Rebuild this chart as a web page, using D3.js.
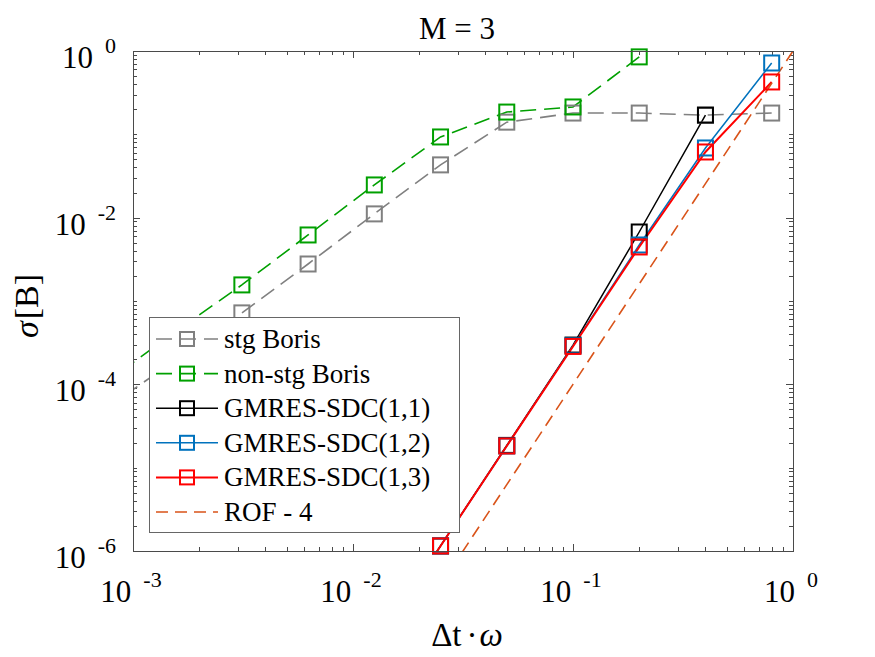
<!DOCTYPE html>
<html>
<head>
<meta charset="utf-8">
<title>M = 3</title>
<script src="https://d3js.org/d3.v7.min.js"></script>
<style>
  body { margin: 0; background: #fff; }
  text { font-family: "Liberation Serif", "Times New Roman", serif; fill: #000; }
</style>
</head>
<body>
<svg width="875" height="657"></svg>
<script>
// step sizes dt*omega, largest first
var dt = [0.8, 0.4, 0.2, 0.1, 0.05, 0.025, 0.0125, 0.00625, 0.003125, 0.0015625, 0.00078125];

var stgBoris    = [0.18, 0.17, 0.18, 0.18, 0.14, 0.043, 0.0111, 0.00278, 7.2e-4, 1.96e-4, 5.5e-5];
var nonStgDt    = [0.2, 0.1, 0.05, 0.025, 0.0125, 0.00625, 0.003125, 0.0015625, 0.00078125];
var nonStgBoris = [0.85, 0.213, 0.185, 0.093, 0.0247, 0.0062, 0.00156, 4.3e-4, 1.14e-4];
var sdc11Dt     = [0.4, 0.2, 0.1, 0.05, 0.025, 0.0125];
var sdc11       = [0.17, 0.00673, 2.96e-4, 1.85e-5, 1.15e-6, 7.2e-8];
var sdcDt       = [0.8, 0.4, 0.2, 0.1, 0.05, 0.025, 0.0125];
var sdc12       = [0.718, 0.0686, 0.0047, 2.9e-4, 1.82e-5, 1.15e-6, 7.2e-8];
var sdc13       = [0.425, 0.0614, 0.00445, 2.85e-4, 1.82e-5, 1.15e-6, 7.2e-8];
var rofDt       = [1, 0.8, 0.4, 0.2, 0.1, 0.05, 0.025];
var rof4        = [1, 0.4096, 0.0256, 0.0016, 1e-4, 6.25e-6, 3.9e-7];

var xTickExp = [-3, -2, -1, 0];
var yTickExp = [0, -2, -4, -6];

var series = [
  {name: "stg Boris",      x: dt,       y: stgBoris,    color: "#808080", dash: "16,8", marker: true, w: 1.6},
  {name: "non-stg Boris",  x: nonStgDt, y: nonStgBoris, color: "#00a000", dash: "16,8", marker: true, w: 1.6},
  {name: "GMRES-SDC(1,1)", x: sdc11Dt,  y: sdc11,       color: "#000000", dash: null,   marker: true, w: 1.5},
  {name: "GMRES-SDC(1,2)", x: sdcDt,    y: sdc12,       color: "#0072bd", dash: null,   marker: true, w: 1.5},
  {name: "GMRES-SDC(1,3)", x: sdcDt,    y: sdc13,       color: "#ff0000", dash: null,   marker: true, w: 2},
  {name: "ROF - 4",        x: rofDt,    y: rof4,        color: "#d95319", dash: "12,7", marker: false, w: 1.6}
];

var svg = d3.select("svg");
var pL = 133, pR = 793, pT = 51, pB = 551;

var x = d3.scaleLog().domain([1e-3, 1]).range([pL, pR]);
var y = d3.scaleLog().domain([1e-6, 1]).range([pB, pT]);

svg.append("defs").append("clipPath").attr("id", "clip")
  .append("rect").attr("x", pL).attr("y", pT)
  .attr("width", pR - pL).attr("height", pB - pT);

// ticks, MATLAB style: inside, on all four sides
var axisColor = "#4a4a4a";
var ticks = svg.append("g").attr("stroke", axisColor).attr("stroke-width", 1);
var majLen = 7, minLen = 4;

function logTicks(lo, hi) {
  var out = [];
  for (var e = lo; e < hi; e++) {
    for (var m = 1; m <= 9; m++) out.push({v: m * Math.pow(10, e), major: m === 1});
  }
  out.push({v: Math.pow(10, hi), major: true});
  return out;
}

logTicks(-3, 0).forEach(function(t) {
  var px = Math.round(x(t.v)) + 0.5, len = t.major ? majLen : minLen;
  ticks.append("line").attr("x1", px).attr("x2", px).attr("y1", pB).attr("y2", pB - len);
  ticks.append("line").attr("x1", px).attr("x2", px).attr("y1", pT).attr("y2", pT + len);
});
logTicks(-6, 0).forEach(function(t) {
  var e = Math.round(Math.log10(t.v));
  var major = t.major && yTickExp.indexOf(e) >= 0;
  var py = Math.round(y(t.v)) + 0.5, len = major ? majLen : minLen;
  ticks.append("line").attr("y1", py).attr("y2", py).attr("x1", pL).attr("x2", pL + len);
  ticks.append("line").attr("y1", py).attr("y2", py).attr("x1", pR).attr("x2", pR - len);
});

// series
var plot = svg.append("g").attr("clip-path", "url(#clip)");
var line = d3.line().x(function(d) { return x(d[0]); }).y(function(d) { return y(d[1]); });

series.forEach(function(s) {
  var pts = s.x.map(function(v, i) { return [v, s.y[i]]; });
  plot.append("path")
    .attr("d", line(pts))
    .attr("fill", "none")
    .attr("stroke", s.color)
    .attr("stroke-width", s.w)
    .attr("stroke-dasharray", s.dash);
  if (s.marker) {
    svg.append("g").selectAll("rect")
      .data(pts.filter(function(p) { return p[0] >= 1e-3 && p[1] >= 1e-6; }))
      .enter().append("rect")
        .attr("x", function(d) { return x(d[0]) - 7.5; })
        .attr("y", function(d) { return y(d[1]) - 7.5; })
        .attr("width", 15).attr("height", 15)
        .attr("fill", "none")
        .attr("stroke", s.color)
        .attr("stroke-width", 2);
  }
});

// box
svg.append("rect")
  .attr("x", pL + 0.5).attr("y", pT + 0.5)
  .attr("width", pR - pL).attr("height", pB - pT)
  .attr("fill", "none").attr("stroke", axisColor).attr("stroke-width", 1);

// tick labels
function powLabel(g, px, py, e, anchor) {
  var t = g.append("text").attr("x", px).attr("y", py).attr("text-anchor", anchor);
  t.append("tspan").attr("font-size", 31).text("10");
  t.append("tspan").attr("font-size", 22).attr("dx", 12).attr("dy", -15).text(e);
}
var labels = svg.append("g");
xTickExp.forEach(function(e) { powLabel(labels, x(Math.pow(10, e)) - 2, 602, e, "middle"); });
yTickExp.forEach(function(e) { powLabel(labels, 116, y(Math.pow(10, e)) + 17, e, "end"); });

// title and axis labels
svg.append("text").attr("x", (pL + pR) / 2 - 6).attr("y", 39)
  .attr("text-anchor", "middle").attr("font-size", 31).text("M = 3");
svg.append("text").attr("x", (pL + pR) / 2 + 4).attr("y", 646)
  .attr("text-anchor", "middle").attr("font-size", 33)
  .html('Δt<tspan dx="5">·</tspan><tspan dx="2" font-style="italic">ω</tspan>');
svg.append("text").attr("transform", "translate(38," + ((pT + pB) / 2 + 5) + ") rotate(-90)")
  .attr("text-anchor", "middle").attr("font-size", 34)
  .html('<tspan font-style="italic">σ</tspan><tspan dx="2">[B]</tspan>');

// legend
var lg = svg.append("g");
lg.append("rect").attr("x", 149.5).attr("y", 317.5).attr("width", 310).attr("height", 215)
  .attr("fill", "#fff").attr("stroke", "#666").attr("stroke-width", 1);
series.forEach(function(s, i) {
  var ly = 339 + i * 34.6;
  lg.append("line").attr("x1", 156).attr("x2", 218).attr("y1", ly).attr("y2", ly)
    .attr("stroke", s.color).attr("stroke-width", s.w).attr("stroke-dasharray", s.dash);
  if (s.marker) {
    lg.append("rect").attr("x", 187 - 7).attr("y", ly - 7).attr("width", 14).attr("height", 14)
      .attr("fill", "none").attr("stroke", s.color).attr("stroke-width", 2);
  }
  lg.append("text").attr("x", 224).attr("y", ly + 9).attr("font-size", 27).text(s.name);
});
</script>
</body>
</html>
